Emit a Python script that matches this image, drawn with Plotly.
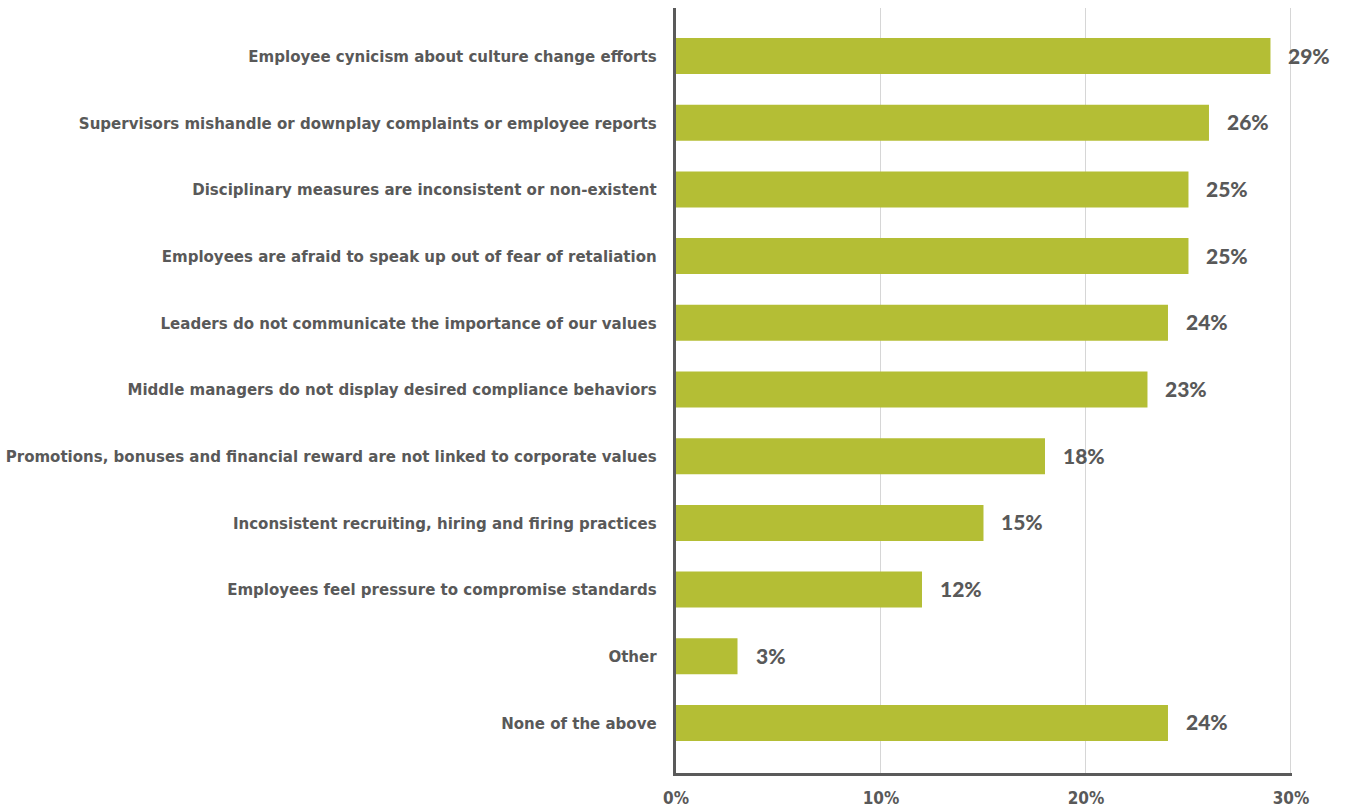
import plotly.graph_objects as go

categories = [
    "Employee cynicism about culture change efforts",
    "Supervisors mishandle or downplay complaints or employee reports",
    "Disciplinary measures are inconsistent or non-existent",
    "Employees are afraid to speak up out of fear of retaliation",
    "Leaders do not communicate the importance of our values",
    "Middle managers do not display desired compliance behaviors",
    "Promotions, bonuses and financial reward are not linked to corporate values",
    "Inconsistent recruiting, hiring and firing practices",
    "Employees feel pressure to compromise standards",
    "Other",
    "None of the above",
]
values = [29, 26, 25, 25, 24, 23, 18, 15, 12, 3, 24]
x_ticks = [0, 10, 20, 30]
x_tick_labels = ["0%", "10%", "20%", "30%"]

BAR = "#b4be35"
TEXT = "#595959"
LABEL_FONT = "DejaVu Sans Condensed"

fig = go.Figure()
fig.add_trace(go.Bar(
    x=values,
    y=categories,
    orientation="h",
    marker=dict(color=BAR, line=dict(width=0)),
    width=0.54,
    hoverinfo="x+y",
))

# value labels just past the end of each bar
for cat, v in zip(categories, values):
    fig.add_annotation(
        x=v, y=cat, text=f"{v}%", showarrow=False,
        xanchor="left", yanchor="middle", xshift=16, yshift=1,
        font=dict(family="Lato", size=21, color=TEXT, weight=900),
    )

fig.update_layout(
    width=1349, height=811,
    margin=dict(l=676, r=57, t=8, b=38),
    paper_bgcolor="white", plot_bgcolor="white",
    showlegend=False,
    bargap=0.46,
    xaxis=dict(
        range=[0, 30.05],
        tickvals=x_ticks, ticktext=x_tick_labels,
        showgrid=True, gridcolor="#d6d6d6", gridwidth=1,
        zeroline=False,
        showline=True, linecolor="#5a5a5a", linewidth=3,
        ticks="", ticklabelstandoff=8,
        tickfont=dict(family=LABEL_FONT, size=17, color=TEXT, weight="bold"),
        automargin=False,
        fixedrange=True,
    ),
    yaxis=dict(
        categoryorder="array", categoryarray=categories,
        range=[10.75, -0.72],
        showgrid=False, zeroline=False,
        showline=True, linecolor="#5a5a5a", linewidth=3,
        ticks="", ticklabelstandoff=13,
        tickfont=dict(family=LABEL_FONT, size=16.7, color=TEXT, weight="bold"),
        automargin=False,
        fixedrange=True,
    ),
)

fig.write_html("out.html")
